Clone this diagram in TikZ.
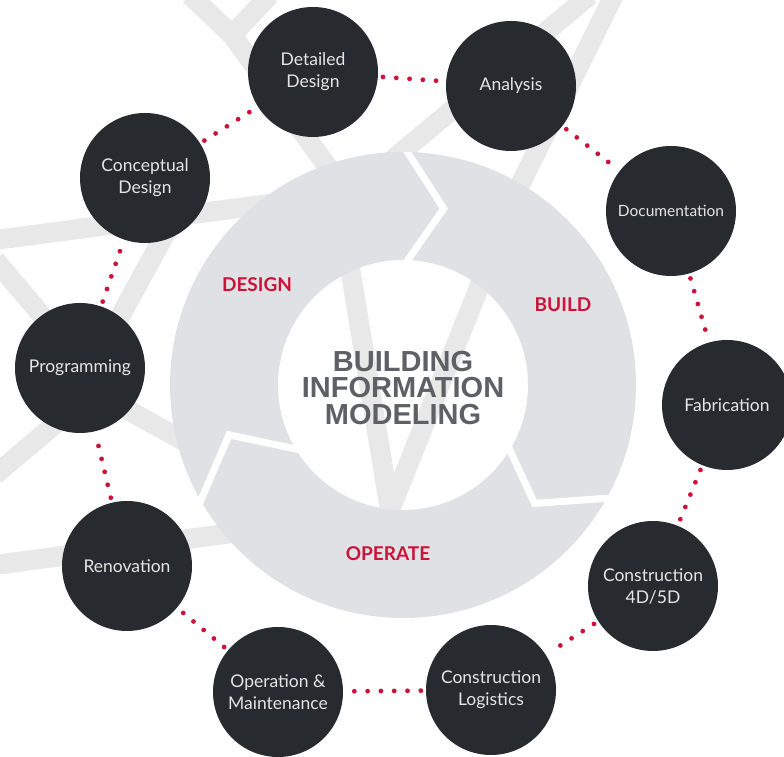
\documentclass[tikz,border=0pt]{standalone}
\usepackage{fontspec}
\setmainfont{Lato}
\newfontfamily\bimfont{Liberation Sans}

\definecolor{stagedark}{RGB}{39,43,47}
\definecolor{ringgray}{RGB}{224,225,229}
\definecolor{stripegray}{RGB}{232,232,232}
\definecolor{dotred}{RGB}{204,18,56}
\definecolor{titlegray}{RGB}{93,96,100}

\tikzset{
  stage/.style={circle, fill=stagedark, minimum size=130pt, inner sep=0pt,
    text=white!90!black, align=center, font=\fontsize{17.5}{22}\selectfont},
  dotline/.style={dotred, line width=4.8pt, line cap=round,
    dash pattern=on 0pt off 13.3pt, shorten <=5pt, shorten >=5pt},
  stripe/.style={stripegray, line width=20pt},
  ringgap/.style={white, line width=7pt},
  phase/.style={text=dotred, font=\bfseries\fontsize{19}{22}\selectfont},
}

\begin{document}
\begin{tikzpicture}[x=1pt,y=1pt]
  \useasboundingbox (0,0) rectangle (784,757);

  % background stripes
  \draw [stripe] (190,762) -- (232,722) -- (335,580) -- (390,247) -- (520,572) -- (614,762);
  \draw [stripe] (270,762) -- (232,722);
  \draw [stripe] (380,587) -- (590,762);
  \draw [stripe] (-5,517) -- (300,557);
  \draw [stripe] (110,422) -- (170,532);
  \draw [stripe] (-5,497) -- (50,432);
  \draw [stripe] (110,357) -- (200,307);
  \draw [stripe] (60,337) -- (-5,282);
  \draw [stripe] (-5,192) -- (240,225);

  % the ring and its three arrows
  \fill [ringgray, even odd rule] (403,372) circle (233) (403,372) circle (125);
  \begin{scope}
    \clip (403,372) circle (233);
    \draw [ringgap, shift={(403,372)}] (90:240) -- (77:181) -- (90:118);
    \draw [ringgap, shift={(403,372)}] (-28:240) -- (-42:177) -- (-29:118);
    \draw [ringgap, shift={(403,372)}] (211:240) -- (196:181) -- (214:118);
  \end{scope}

  \node [font=\bimfont\bfseries\fontsize{29}{26.5}\selectfont, text=titlegray, align=center] (bim) at (403,369) {BUILDING\\INFORMATION\\MODELING};

  \node [phase] (design) at (257,472) {DESIGN};
  \node [phase] (build) at (563,452) {BUILD};
  \node [phase] (operate) at (388,203) {OPERATE};

  % stages
  \node [stage] (dd) at (313,685) {Detailed\\Design};
  \node [stage] (an) at (511,671) {Analysis};
  \node [stage, font=\fontsize{15.5}{20}\selectfont] (doc) at (671,546) {Documentation};
  \node [stage] (fab) at (727,352) {Fabrication};
  \node [stage] (cfd) at (653,171) {Construction\\4D/5D};
  \node [stage] (cl) at (491,67) {Construction\\Logistics};
  \node [stage] (om) at (278,65) {Operation \&\\Maintenance};
  \node [stage] (ren) at (127,191) {Renovation};
  \node [stage] (prog) at (80,389) {Programming};
  \node [stage] (cd) at (145,579) {Conceptual\\Design};

  \draw [dotline] (dd) -- (an);
  \draw [dotline] (an) -- (doc);
  \draw [dotline] (doc) -- (fab);
  \draw [dotline] (fab) -- (cfd);
  \draw [dotline] (cfd) -- (cl);
  \draw [dotline] (cl) -- (om);
  \draw [dotline] (om) -- (ren);
  \draw [dotline] (ren) -- (prog);
  \draw [dotline] (prog) -- (cd);
  \draw [dotline] (cd) -- (dd);
\end{tikzpicture}
\end{document}
